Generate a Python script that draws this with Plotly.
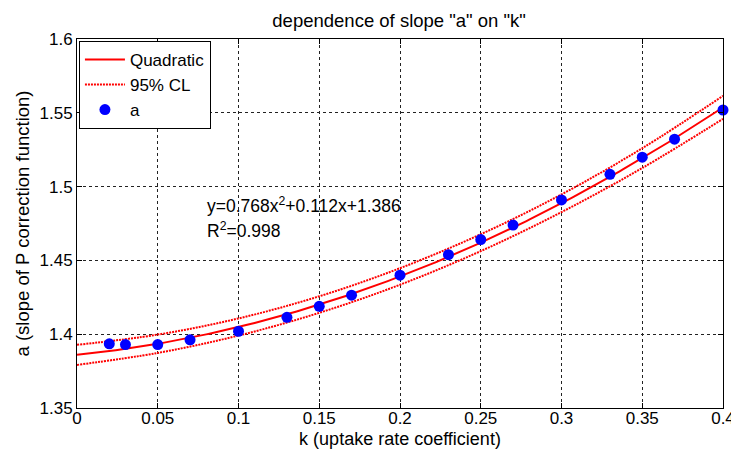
import numpy as np
import plotly.graph_objects as go

# measured slope "a" for each uptake rate coefficient "k"
k_vals = [0.02, 0.03, 0.05, 0.07, 0.10, 0.13, 0.15, 0.17, 0.20,
          0.23, 0.25, 0.27, 0.30, 0.33, 0.35, 0.37, 0.40]
a_vals = [1.3935, 1.3930, 1.3930, 1.3962, 1.4020, 1.4114, 1.4189, 1.4264, 1.4400,
          1.4539, 1.4641, 1.4739, 1.4910, 1.5083, 1.5199, 1.5321, 1.5519]

# quadratic fit coefficients (a = p2*k^2 + p1*k + p0)
fit_coefs = [0.768, 0.112, 1.386]
r_squared = 0.998

# half-width of the 95% confidence band along k
cl_k = [0.0, 0.05, 0.10, 0.15, 0.20, 0.25, 0.30, 0.35, 0.40]
cl_half = [0.0068, 0.0062, 0.0058, 0.0056, 0.0056, 0.0057, 0.0060, 0.0067, 0.0078]

x_ticks = [0, 0.05, 0.1, 0.15, 0.2, 0.25, 0.3, 0.35, 0.4]
x_ticktext = ["0", "0.05", "0.1", "0.15", "0.2", "0.25", "0.3", "0.35", "0.4"]
y_ticks = [1.35, 1.4, 1.45, 1.5, 1.55, 1.6]
y_ticktext = ["1.35", "1.4", "1.45", "1.5", "1.55", "1.6"]

poly = np.poly1d(fit_coefs)
k_fit = np.linspace(0, 0.4, 201)
a_fit = poly(k_fit)
cl_k_arr = np.array(cl_k)
cl_upper = poly(cl_k_arr) + np.array(cl_half)
cl_lower = poly(cl_k_arr) - np.array(cl_half)

FONT = "Liberation Sans, Arial, sans-serif"
RED = "#ff0000"
BLUE = "#0000ff"

fig = go.Figure()
fig.add_trace(go.Scatter(x=k_fit, y=a_fit, mode="lines", name="Quadratic",
                         line=dict(color=RED, width=2)))
fig.add_trace(go.Scatter(x=cl_k, y=cl_upper, mode="lines", name="95% CL",
                         line=dict(color=RED, width=2, dash="2px,1px", shape="spline"),
                         legendgroup="cl"))
fig.add_trace(go.Scatter(x=cl_k, y=cl_lower, mode="lines", name="95% CL",
                         line=dict(color=RED, width=2, dash="2px,1px", shape="spline"),
                         legendgroup="cl", showlegend=False))
fig.add_trace(go.Scatter(x=k_vals, y=a_vals, mode="markers", name="a",
                         marker=dict(color=BLUE, size=11, line=dict(width=0)),
                         cliponaxis=False))

axis_common = dict(
    showline=True, linecolor="black", linewidth=1, mirror="allticks",
    ticks="inside", ticklen=5, tickcolor="black",
    showgrid=True, gridcolor="#222222", gridwidth=1, griddash="3px,3px",
    zeroline=False, tickfont=dict(size=17, color="black", family=FONT),
    ticklabeloverflow="allow", automargin=False,
)

fig.update_xaxes(range=[0, 0.4], tickvals=x_ticks, ticktext=x_ticktext,
                 ticklabelstandoff=-5,
                 title_text="k (uptake rate coefficient)", title_standoff=4,
                 title_font=dict(size=18, color="black", family=FONT),
                 **axis_common)
fig.update_yaxes(range=[1.35, 1.6], tickvals=y_ticks, ticktext=y_ticktext,
                 title_text="a (slope of P correction function)", title_standoff=5,
                 title_font=dict(size=18.5, color="black", family=FONT),
                 **axis_common)

eq_text = "y={:.3f}x<sup>2</sup>+{:.3f}x+{:.3f}".format(*fit_coefs)
r2_text = "R<sup>2</sup>={:.3f}".format(r_squared)
fig.add_annotation(x=0.079, y=1.4872, text=eq_text, showarrow=False,
                   xanchor="left", yanchor="middle",
                   font=dict(size=17.5, color="black", family=FONT))
fig.add_annotation(x=0.079, y=1.4705, text=r2_text, showarrow=False,
                   xanchor="left", yanchor="middle",
                   font=dict(size=17.5, color="black", family=FONT))

fig.update_layout(
    width=731, height=451,
    margin=dict(l=77, r=8, t=39, b=43),
    paper_bgcolor="white", plot_bgcolor="white",
    title=dict(text='dependence of slope "a" on "k"', x=0.546, xanchor="center",
               y=0.955, yanchor="middle",
               font=dict(size=18.5, color="black", family=FONT)),
    font=dict(family=FONT, color="black"),
    legend=dict(x=0.003, y=0.995, xanchor="left", yanchor="top",
                bgcolor="white", bordercolor="black", borderwidth=1,
                font=dict(size=17, color="black", family=FONT),
                itemwidth=40, tracegroupgap=0),
    showlegend=True,
)

fig.write_html("out.html")
